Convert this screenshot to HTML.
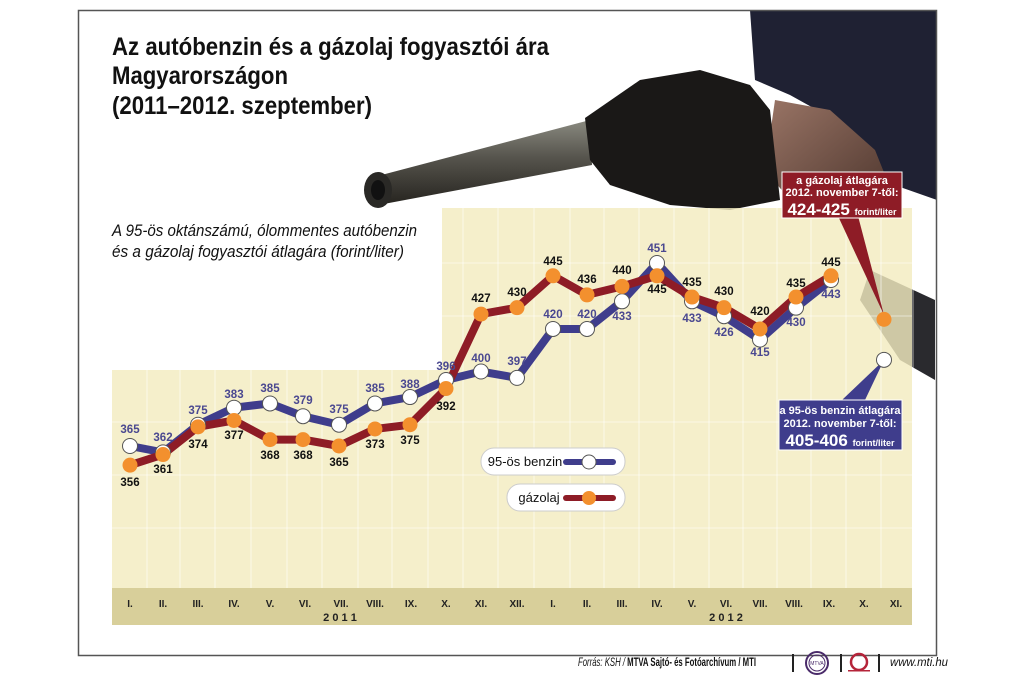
<!DOCTYPE html>
<html><head><meta charset="utf-8"><style>
html,body{margin:0;padding:0;background:#fff}
svg{display:block}
text{font-family:"Liberation Sans Narrow","Liberation Sans",sans-serif}
.tt{font-family:"Liberation Sans",sans-serif}
</style></head><body>
<svg id="s" width="1024" height="683" viewBox="0 0 1024 683" xmlns="http://www.w3.org/2000/svg">
<rect x="0" y="0" width="1024" height="683" fill="#fff"/>
<defs>
<linearGradient id="pipe" x1="0" y1="0" x2="0" y2="1"><stop offset="0" stop-color="#8a8a80"/><stop offset="0.45" stop-color="#55534c"/><stop offset="1" stop-color="#26241f"/></linearGradient>
<linearGradient id="skin" x1="0" y1="0" x2="1" y2="1"><stop offset="0" stop-color="#9a7566"/><stop offset="1" stop-color="#4a332b"/></linearGradient>
</defs>
<path d="M870 270 L935 300 L935 380 L900 360 L860 300 Z" fill="#2a2a2e"/>
<path d="M750 10 L937 10 L937 200 L880 180 L835 120 L790 95 L755 80 Z" fill="#1f2133"/>
<path d="M775 100 L830 110 L875 150 L895 200 L870 210 L790 200 L765 170 Z" fill="url(#skin)"/>
<path d="M370 178 Q365 200 378 205 L592 165 L590 120 Z" fill="url(#pipe)"/>
<ellipse cx="378" cy="190" rx="14" ry="18" fill="#2a2926"/>
<ellipse cx="378" cy="190" rx="7" ry="10" fill="#111"/>
<path d="M585 118 L640 80 L700 70 L750 85 L770 110 L780 200 L730 210 L670 205 L610 185 L590 160 Z" fill="#1a1817"/>
<g id="plot"></g>
<rect x="78.5" y="10.5" width="858" height="645" fill="none" stroke="#555" stroke-width="1.5"/>
<g font-weight="bold" fill="#111" class="tt">
<text class="tt" x="112" y="55" font-size="25" textLength="437" lengthAdjust="spacingAndGlyphs">Az autóbenzin és a gázolaj fogyasztói ára</text>
<text class="tt" x="112" y="84" font-size="25" textLength="176" lengthAdjust="spacingAndGlyphs">Magyarországon</text>
<text class="tt" x="112" y="114" font-size="25" textLength="260" lengthAdjust="spacingAndGlyphs">(2011–2012. szeptember)</text>
</g>
<g font-style="italic" fill="#111" font-size="17">
<text x="112" y="236" textLength="305" lengthAdjust="spacingAndGlyphs">A 95-ös oktánszámú, ólommentes autóbenzin</text>
<text x="112" y="257" textLength="292" lengthAdjust="spacingAndGlyphs">és a gázolaj fogyasztói átlagára (forint/liter)</text>
</g>
<g font-size="12" fill="#111">
<text x="578" y="666" font-style="italic" textLength="178" lengthAdjust="spacingAndGlyphs">Forrás: KSH / <tspan font-weight="bold" font-style="normal">MTVA Sajtó- és Fotóarchívum / MTI</tspan></text>
<rect x="792" y="654" width="2" height="18" fill="#222"/>
<circle cx="817" cy="663" r="11" fill="none" stroke="#4a2b6a" stroke-width="2"/>
<circle cx="817" cy="663" r="8" fill="none" stroke="#4a2b6a" stroke-width="1"/>
<text x="817" y="665" font-size="5" text-anchor="middle" fill="#4a2b6a">MTVA</text>
<rect x="840" y="654" width="2" height="18" fill="#222"/>
<circle cx="859" cy="662" r="8" fill="none" stroke="#b5243a" stroke-width="2.5"/>
<rect x="848" y="670" width="22" height="1.5" fill="#b5243a"/>
<rect x="878" y="654" width="2" height="18" fill="#222"/>
<text x="890" y="666" font-style="italic" textLength="58" lengthAdjust="spacingAndGlyphs">www.mti.hu</text>
</g>
</svg>
<script>
const NS="http://www.w3.org/2000/svg";
const g=document.getElementById('plot');
function el(t,a,p){const e=document.createElementNS(NS,t);for(const k in a)e.setAttribute(k,a[k]);(p||g).appendChild(e);return e;}
function tx(x,y,s,a){const e=el('text',Object.assign({x:x,y:y,'text-anchor':'middle'},a));e.textContent=s;return e;}
el('path',{d:'M112 370 L442 370 L442 208 L912 208 L912 588 L112 588 Z',fill:'#f3ecc0','fill-opacity':'0.82'});
el('rect',{x:112,y:588,width:800,height:37,fill:'#d8cf9a'});
const X=[130,163,198,234,270,303,339,375,410,446,481,517,553,587,622,657,692,724,760,796,831,866,884];
const XL=[130,163,198,234,270,305,341,375,411,446,481,517,553,587,622,657,692,726,760,794,829,864,896];
for(let i=0;i<XL.length;i++){el('line',{x1:XL[i]+17,y1:i<9?370:208,x2:XL[i]+17,y2:588,stroke:'#fff','stroke-opacity':'0.6','stroke-width':1});}
for(const y of [263,316,422,475,528]){el('line',{x1:y<370?442:112,y1:y,x2:912,y2:y,stroke:'#fff','stroke-opacity':'0.5','stroke-width':1});}
const M=['I.','II.','III.','IV.','V.','VI.','VII.','VIII.','IX.','X.','XI.','XII.','I.','II.','III.','IV.','V.','VI.','VII.','VIII.','IX.','X.','XI.'];
M.forEach((m,i)=>tx(XL[i],607,m,{'font-size':10,'font-weight':'bold',fill:'#222'}));
tx(340,621,'2 0 1 1',{'font-size':11,'font-weight':'bold',fill:'#222'});
tx(726,621,'2 0 1 2',{'font-size':11,'font-weight':'bold',fill:'#222'});
const Y=v=>446-(v-365)*2.128;
const B=[365,362,375,383,385,379,375,385,388,396,400,397,420,420,433,451,433,426,415,430,443];
const G=[356,361,374,377,368,368,365,373,375,392,427,430,445,436,440,445,435,430,420,435,445];
function pts(a){return a.map((v,i)=>X[i]+','+Y(v)).join(' ');}
el('polyline',{points:pts(B),fill:'none',stroke:'#3f3d8c','stroke-width':8,'stroke-linejoin':'round'});
el('polyline',{points:pts(G),fill:'none',stroke:'#8e1c26','stroke-width':8,'stroke-linejoin':'round'});
el('path',{d:'M838 216 L858 216 L884 315 Z',fill:'#8e1c26'});
el('path',{d:'M842 400 L865 400 L884 360 Z',fill:'#3f3d8c'});
B.forEach((v,i)=>el('circle',{cx:X[i],cy:Y(v),r:7.5,fill:'#fff',stroke:'#555','stroke-width':1}));
G.forEach((v,i)=>el('circle',{cx:X[i],cy:Y(v),r:7.5,fill:'#f3902e'}));
el('circle',{cx:884,cy:Y(405.5),r:7.5,fill:'#fff',stroke:'#555','stroke-width':1});
el('circle',{cx:884,cy:Y(424.5),r:7.5,fill:'#f3902e'});
const BL=[[130,433],[163,441],[198,414],[234,398],[270,392],[303,404],[339,413],[375,392],[410,388],[446,370],[481,362],[517,365],[553,318],[587,318],[622,320],[657,252],[692,322],[724,336],[760,356],[796,326],[831,298]];
const GL=[[130,486],[163,473],[198,448],[234,439],[270,459],[303,459],[339,466],[375,448],[410,444],[446,410],[481,302],[517,296],[553,265],[587,283],[622,274],[657,293],[692,286],[724,295],[760,315],[796,287],[831,266]];
B.forEach((v,i)=>tx(BL[i][0],BL[i][1],v,{'font-size':11.5,'font-weight':'bold',fill:'#4a4890'}));
G.forEach((v,i)=>tx(GL[i][0],GL[i][1],v,{'font-size':11.5,'font-weight':'bold',fill:'#111'}));
el('rect',{x:481,y:448,width:144,height:27,rx:13,fill:'#fff',stroke:'#ccc'});
tx(525,466,'95-ös benzin',{'font-size':13,fill:'#111'});
el('line',{x1:566,y1:462,x2:613,y2:462,stroke:'#3f3d8c','stroke-width':6,'stroke-linecap':'round'});
el('circle',{cx:589,cy:462,r:7,fill:'#fff',stroke:'#555'});
el('rect',{x:507,y:484,width:118,height:27,rx:13,fill:'#fff',stroke:'#ccc'});
tx(539,502,'gázolaj',{'font-size':13,fill:'#111'});
el('line',{x1:566,y1:498,x2:613,y2:498,stroke:'#8e1c26','stroke-width':6,'stroke-linecap':'round'});
el('circle',{cx:589,cy:498,r:7,fill:'#f3902e'});
el('rect',{x:782,y:172,width:120,height:46,fill:'#8e1c26',stroke:'#fff'});
tx(842,184,'a gázolaj átlagára',{'font-size':11,'font-weight':'bold',fill:'#fff'});
tx(842,196,'2012. november 7-től:',{'font-size':11,'font-weight':'bold',fill:'#fff'});
const t1=tx(842,215,'424-425 ',{'font-size':17,'font-weight':'bold',fill:'#fff'});
const s1=document.createElementNS(NS,'tspan');s1.setAttribute('font-size','9');s1.textContent='forint/liter';t1.appendChild(s1);
el('rect',{x:779,y:400,width:123,height:50,fill:'#3f3d8c',stroke:'#fff'});
tx(840,414,'a 95-ös benzin átlagára',{'font-size':11,'font-weight':'bold',fill:'#fff'});
tx(840,427,'2012. november 7-től:',{'font-size':11,'font-weight':'bold',fill:'#fff'});
const t2=tx(840,446,'405-406 ',{'font-size':17,'font-weight':'bold',fill:'#fff'});
const s2=document.createElementNS(NS,'tspan');s2.setAttribute('font-size','9');s2.textContent='forint/liter';t2.appendChild(s2);
</script>
</body></html>
